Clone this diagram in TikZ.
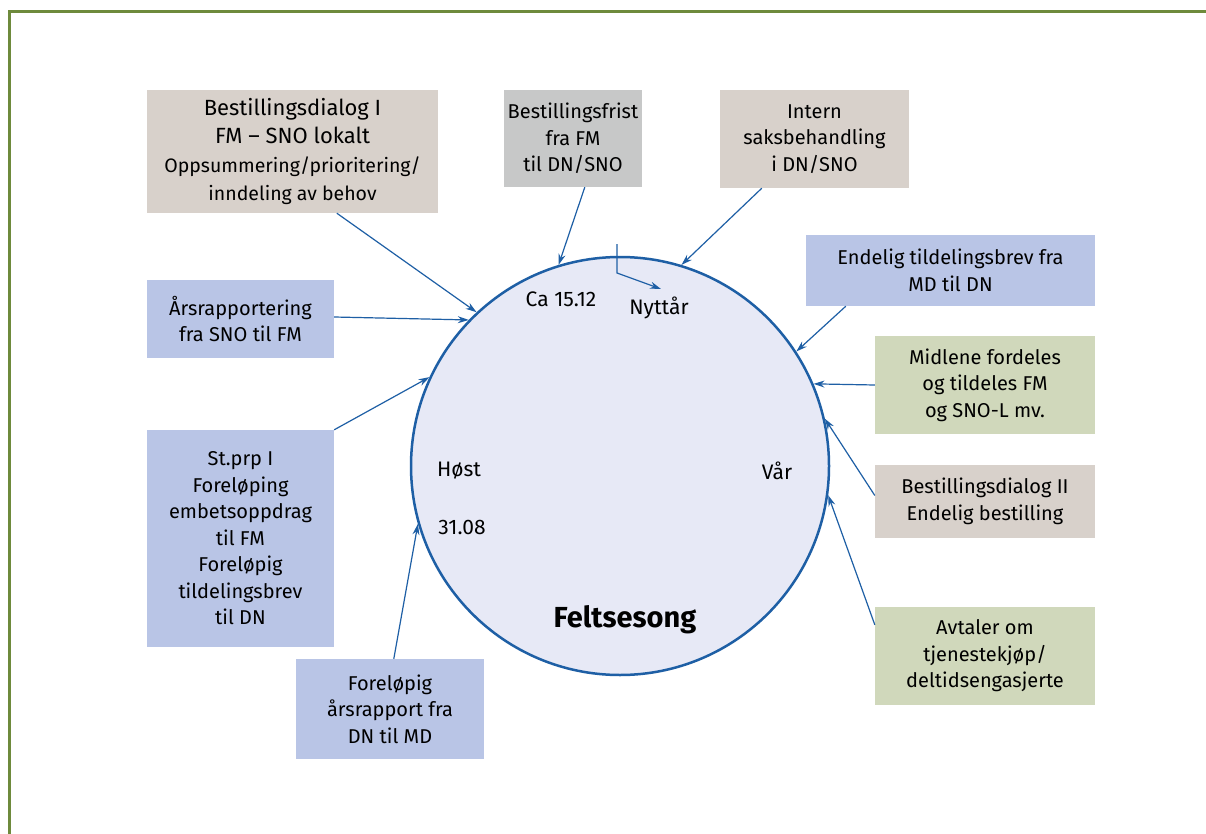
\documentclass[tikz,border=0pt]{standalone}
\usepackage{fontspec}
\setmainfont{Fira Sans}
\usetikzlibrary{arrows.meta}
\definecolor{beigebox}{RGB}{216,209,203}
\definecolor{graybox}{RGB}{199,200,200}
\definecolor{bluebox}{RGB}{185,197,230}
\definecolor{greenbox}{RGB}{208,216,187}
\definecolor{circfill}{RGB}{231,233,246}
\definecolor{lineblue}{RGB}{30,95,165}
\definecolor{framegreen}{RGB}{110,138,60}
\newcommand{\myLargeLine}{\fontsize{22}{28.5}\selectfont}
\newcommand{\mySmallLine}{\fontsize{19.5}{28.5}\selectfont}
\tikzset{
  box/.style={rectangle, inner sep=0pt, align=center, text=black,
    font=\fontsize{20}{26.5}\selectfont},
  lbl/.style={inner sep=0pt, text=black, font=\fontsize{21}{24}\selectfont},
  conn/.style={draw=lineblue, line width=1.2pt, -{Stealth[length=11pt,width=7pt]}}
}
\begin{document}
\begin{tikzpicture}[x=1pt,y=-1pt]
\useasboundingbox (0,0) rectangle (1206,834);
\fill[white] (0,0) rectangle (1206,834);
\draw[framegreen, line width=3pt] (9.5,11.5) rectangle (1240,870);

% circle
\node[circle, draw=lineblue, fill=circfill, line width=2.5pt, minimum size=418pt, inner sep=0pt] (c) at (620,466) {};

% boxes
\node[box, fill=beigebox, minimum width=291pt, minimum height=123pt, font=\fontsize{20}{28.5}\selectfont] (b1) at (292.5,151.5)
  {\myLargeLine Bestillingsdialog I\\\myLargeLine FM \textendash\ SNO lokalt\\
   \mySmallLine Oppsummering/prioritering/\\\mySmallLine inndeling av behov};
\node[box, fill=graybox, minimum width=138pt, minimum height=97pt] (b2) at (573,138.5)
  {Bestillingsfrist\\fra FM\\til DN/SNO};
\node[box, fill=beigebox, minimum width=189pt, minimum height=98pt] (b3) at (814.5,139)
  {Intern\\saksbehandling\\i DN/SNO};
\node[box, fill=bluebox, minimum width=289pt, minimum height=71pt] (b4) at (950.5,270.5)
  {Endelig tildelingsbrev fra\\MD til DN};
\node[box, fill=greenbox, minimum width=220pt, minimum height=98pt] (b5) at (985,385)
  {Midlene fordeles\\og tildeles FM\\og SNO-L mv.};
\node[box, fill=beigebox, minimum width=220pt, minimum height=73pt] (b6) at (985,501.5)
  {Bestillingsdialog II\\Endelig bestilling};
\node[box, fill=greenbox, minimum width=220pt, minimum height=98pt] (b7) at (985,656)
  {Avtaler om\\tjenestekjøp/\\deltidsengasjerte};
\node[box, fill=bluebox, minimum width=187pt, minimum height=78pt] (b8) at (240.5,319)
  {Årsrapportering\\fra SNO til FM};
\node[box, fill=bluebox, minimum width=187pt, minimum height=217pt] (b9) at (240.5,538.5)
  {St.prp I\\Foreløping\\embetsoppdrag\\til FM\\Foreløpig\\tildelingsbrev\\til DN};
\node[box, fill=bluebox, minimum width=188pt, minimum height=100pt] (b10) at (390,709)
  {Foreløpig\\årsrapport fra\\DN til MD};

% labels
\node[lbl] (l1) at (561,299) {Ca 15.12};
\node[lbl] (l2) at (659,308) {Nyttår};
\node[lbl] (l3) at (459,471) {Høst};
\node[lbl] (l4) at (777,471) {Vår};
\node[lbl] (l5) at (462,527) {31.08};
\node[lbl, font=\fontsize{29}{32}\selectfont\bfseries] (l6) at (625,620) {Feltsesong};

% connectors
\draw[conn] ([xshift=190pt]b1.south west) -- (c.133);
\draw[conn] ([xshift=81pt]b2.south west) -- (c.107);
\draw[conn] ([xshift=42pt]b3.south west) -- (c.73.4);
\draw[conn] ([xshift=40pt]b4.south west) -- (c.33.4);
\draw[conn] (b5.west) -- (c.23.5);
\draw[conn] ([yshift=6pt]b6.west) -- (c.13.1);
\draw[conn] ([yshift=-18pt]b7.north west) -- (c.-8.4);
\draw[conn] ([yshift=2pt]b8.east) -- (c.136.4);
\draw[conn] (b9.north east) -- (c.155.4);
\draw[conn] ([xshift=98pt]b10.north west) -- (c.196.2);

\coordinate (n1) at (617,244);
\coordinate (n2) at (617,273);
\coordinate (n3) at (661,289);
\draw[conn] (n1) -- (n2) -- (n3);
\end{tikzpicture}
\end{document}
